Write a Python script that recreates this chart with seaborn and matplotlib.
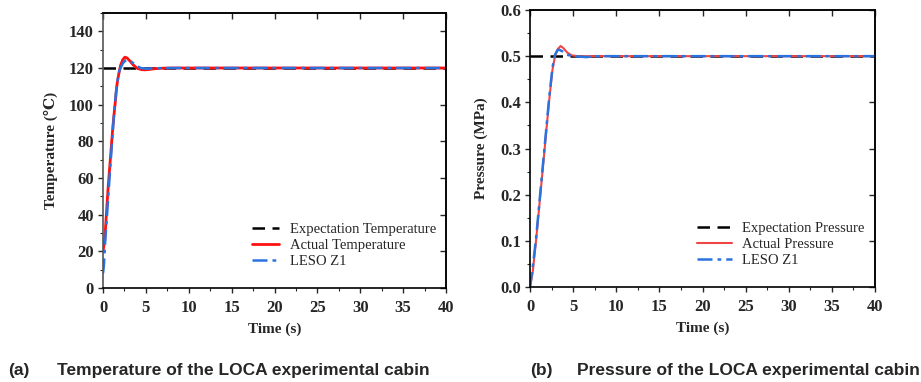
import numpy as np
import pandas as pd
import matplotlib
matplotlib.use("Agg")
import matplotlib.pyplot as plt
from matplotlib.ticker import MultipleLocator
import seaborn as sns

# ---------------- data ----------------
temp_expect_t = [0, 40]
temp_expect_v = [120, 120]
temp_actual_t = [0, 0.2, 0.35, 0.6, 0.9, 1.15, 1.4, 1.63, 1.85, 2.05, 2.3, 2.55, 2.8, 3.1, 3.5, 4.0, 4.5, 4.9, 5.4, 6.0, 7.0, 8.0, 40]
temp_actual_v = [20, 26, 37, 55, 73, 88, 100, 111, 117, 121.5, 124.5, 125.9, 125.5, 124, 121.8, 119.8, 119.1, 119.0, 119.2, 119.6, 119.9, 120, 120]
temp_leso_t = [0, 0.1, 0.25, 0.43, 0.7, 1.0, 1.3, 1.6, 1.9, 2.3, 2.6, 2.9, 3.3, 3.8, 4.4, 5.0, 5.6, 6.5, 8.0, 40]
temp_leso_v = [8, 12, 25, 37, 56, 76, 96, 111, 118.5, 122.5, 124, 124.5, 123.5, 121.5, 120.0, 119.6, 119.7, 119.9, 120, 120]

pres_expect_t = [0, 40]
pres_expect_v = [0.5, 0.5]
pres_actual_t = [0, 0.3, 0.7, 1.2, 1.7, 2.2, 2.6, 2.9, 3.2, 3.55, 3.9, 4.3, 4.8, 5.5, 40]
pres_actual_v = [0.0, 0.03, 0.10, 0.20, 0.30, 0.40, 0.47, 0.50, 0.515, 0.522, 0.517, 0.508, 0.502, 0.500, 0.500]
pres_leso_t = [0, 0.3, 0.7, 1.2, 1.7, 2.2, 2.6, 2.9, 3.15, 3.4, 3.8, 4.3, 5.0, 6.5, 8.0, 40]
pres_leso_v = [0.0, 0.04, 0.105, 0.205, 0.305, 0.405, 0.475, 0.503, 0.512, 0.514, 0.510, 0.503, 0.500, 0.498, 0.500, 0.500]

temp_yticks = [0, 20, 40, 60, 80, 100, 120, 140]
pres_yticks = [0.0, 0.1, 0.2, 0.3, 0.4, 0.5, 0.6]
xticks = [0, 5, 10, 15, 20, 25, 30, 35, 40]

# ---------------- style ----------------
sns.set_style("ticks")
plt.rcParams['font.family'] = ['Liberation Serif', 'DejaVu Serif']
plt.rcParams['axes.linewidth'] = 1.2

fig = plt.figure(figsize=(9.21, 3.82), dpi=100)
axL = fig.add_axes([103/921, 1-288/382, (446-103)/921, (288-13)/382])
axR = fig.add_axes([530/921, 1-287/382, (875-530)/921, (287-10)/382])

BLUE = "#2a72e0"


def draw(ax, et, ev, at, av, lt, lv, labels, red_color, red_lw):
    sns.lineplot(x=et, y=ev, ax=ax, color="black", lw=1.8,
                 linestyle=(0, (5, 3)), label=labels[0], sort=False)
    sns.lineplot(x=at, y=av, ax=ax, color=red_color, lw=red_lw, label=labels[1], sort=False)
    sns.lineplot(x=lt, y=lv, ax=ax, color=BLUE, lw=1.8, linestyle=(0, (6, 2, 1.5, 2)),
                 label=labels[2], sort=False)


draw(axL, temp_expect_t, temp_expect_v, temp_actual_t, temp_actual_v, temp_leso_t, temp_leso_v,
     ["Expectation Temperature", "Actual Temperature", "LESO Z1"], "#ff1010", 2.0)
draw(axR, pres_expect_t, pres_expect_v, pres_actual_t, pres_actual_v, pres_leso_t, pres_leso_v,
     ["Expectation Pressure", "Actual Pressure", "LESO Z1"], "#f04545", 1.5)

tickfont = dict(family=['Liberation Serif', 'DejaVu Serif'], weight='bold', size=12)

for ax, yt, ylim, ymin, ylab, fmt, hl, ypad in [
    (axL, temp_yticks, (0, 150), 10, "Temperature (\u2103)", "{:.0f}", 1.9, 8),
    (axR, pres_yticks, (0, 0.6), 0.05, "Pressure (MPa)", "{:.1f}", 2.4, 9),
]:
    ax.set_xlim(0, 40)
    ax.set_ylim(*ylim)
    ax.set_xticks(xticks)
    ax.set_xticklabels([str(v) for v in xticks], fontdict=tickfont)
    ax.set_yticks(yt)
    ax.set_yticklabels([fmt.format(v) for v in yt], fontdict=tickfont)
    ax.xaxis.set_minor_locator(MultipleLocator(2.5))
    ax.yaxis.set_minor_locator(MultipleLocator(ymin))
    ax.tick_params(which='major', direction='out', length=3.5, width=1.0)
    ax.tick_params(axis='x', which='major', pad=5)
    ax.tick_params(axis='y', which='major', pad=3)
    ax.tick_params(which='minor', direction='out', length=2.5, width=0.8)
    for s in ax.spines.values():
        s.set_visible(True)
        s.set_color("black")
    # inward ticks on top / right
    sx = ax.secondary_xaxis('top')
    sx.set_xticks(xticks)
    sx.set_xticklabels([])
    sx.tick_params(direction='in', length=4, width=1.0)
    sy = ax.secondary_yaxis('right')
    sy.set_yticks(yt)
    sy.set_yticklabels([])
    sy.tick_params(direction='in', length=4, width=1.0)
    ax.set_xlabel("Time (s)", fontsize=11, fontweight='bold', labelpad=5)
    ax.set_ylabel(ylab, fontsize=11, fontweight='bold', labelpad=ypad)
    ax.legend(loc='lower right', bbox_to_anchor=(1.0, 0.035), frameon=False,
              fontsize=10.5, handlelength=hl, handletextpad=0.7, labelspacing=0.18,
              borderaxespad=0.3)

axL.spines['left'].set_color("#555555")

capfont = dict(fontsize=12.5, fontweight='bold', family=['Liberation Sans'], va='center', ha='left')
fig.text(8/921, 1-370/382, "(a)", **capfont)
fig.text(57/921, 1-370/382, "Temperature of the LOCA experimental cabin", **capfont)
fig.text(530/921, 1-370/382, "(b)", **capfont)
fig.text(577/921, 1-370/382, "Pressure of the LOCA experimental cabin", **capfont)

fig.savefig("out.png", dpi=100)
